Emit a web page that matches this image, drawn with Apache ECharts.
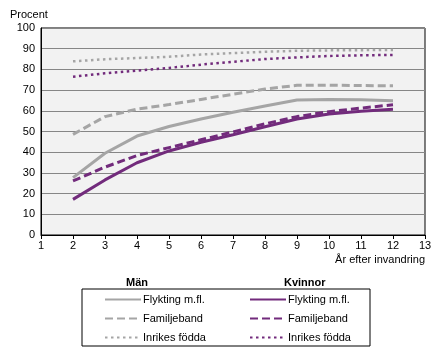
<!DOCTYPE html>
<html><head><meta charset="utf-8">
<script src="https://cdn.jsdelivr.net/npm/echarts@6/dist/echarts.min.js"></script>
<style>html,body{margin:0;padding:0;background:#fff}#c{width:441px;height:360px}</style>
</head><body><div id="c"></div>
<script>
const years = [2,3,4,5,6,7,8,9,10,11,12];
const manFlykting = [27.7,39.5,47.8,52.4,56,59.3,62.3,65.2,65.5,65.3,64.9];
const manFamiljeband = [48.6,57.2,60.8,63,65.5,68,70.5,72.3,72.4,72.2,72.1];
const manInrikes = [83.9,84.9,85.5,86.1,87.2,87.9,88.5,89,89.2,89.3,89.4];
const kvFlykting = [17.2,26.6,34.9,40.6,44.8,48.4,52.3,56,58.5,59.8,60.7];
const kvFamiljeband = [26.1,32.8,38.4,42.2,46,49.8,53.7,57.2,59.6,61.3,62.9];
const kvInrikes = [76.5,78.1,79.4,80.7,82.3,83.7,85,85.8,86.5,86.8,87];
const labelsMan = ['Flykting m.fl.','Familjeband','Inrikes födda'];
const labelsKv = ['Flykting m.fl. ','Familjeband ','Inrikes födda '];

const gray = '#a5a5a5', purple = '#722b7c';
const font = 'Liberation Sans, Arial, sans-serif';
function pts(arr){ return years.map((x,i)=>[x,arr[i]]); }
function ser(name, data, color, type, width){
  return {name, type:'line', data:pts(data), showSymbol:false, symbol:'none', smooth:false,
    lineStyle:{color, width, type, cap:'butt'}, itemStyle:{color:'rgba(0,0,0,0)', borderWidth:0}, silent:true, z: color===purple?3:2};
}
const legendCommon = {orient:'vertical', top:294, padding:0, itemWidth:36, itemHeight:10, itemGap:8,
  itemStyle:{opacity:0, borderWidth:0},
  textStyle:{fontFamily:font, fontSize:11, color:'#000', padding:[0,0,0,-3]}, selectedMode:false};
const chart = echarts.init(document.getElementById('c'), null, {renderer:'canvas'});
chart.setOption({
  animation:false,
  grid:{left:41, top:28, width:384, height:207, show:true, backgroundColor:'#f2f2f2', borderColor:'#000', borderWidth:1},
  xAxis:{type:'value', min:1, max:13, interval:1,
    name:'År efter invandring', nameLocation:'end', nameGap:0,
    nameTextStyle:{fontFamily:font, fontSize:11, color:'#000', align:'right', verticalAlign:'top', padding:[19,0,0,0]},
    axisLine:{lineStyle:{color:'#000', width:1}}, axisTick:{show:true, length:4, lineStyle:{color:'#000'}},
    axisLabel:{fontFamily:font, fontSize:11, color:'#000', margin:5}, splitLine:{show:false}},
  yAxis:{type:'value', min:0, max:100, interval:10,
    name:'Procent', nameLocation:'end', nameGap:8,
    nameTextStyle:{fontFamily:font, fontSize:11, color:'#000', align:'left', padding:[0,0,0,-31]},
    axisLine:{show:true, lineStyle:{color:'#000', width:1}}, axisTick:{show:false},
    axisLabel:{fontFamily:font, fontSize:11, color:'#000', margin:6},
    splitLine:{show:true, lineStyle:{color:'#868686', width:1}}},
  legend:[
    Object.assign({data:labelsMan, left:104}, legendCommon),
    Object.assign({data:labelsKv, left:249, formatter:n=>n.trim()}, legendCommon)
  ],
  graphic:[
    {type:'rect', shape:{x:82, y:289, width:288, height:57}, style:{fill:'none', stroke:'#000', lineWidth:1}, silent:true},
    {type:'text', left:126, top:277, style:{text:'Män', font:'bold 11px '+font, fill:'#000'}},
    {type:'text', left:284, top:277, style:{text:'Kvinnor', font:'bold 11px '+font, fill:'#000'}}
  ],
  series:[
    ser(labelsMan[0], manFlykting, gray, 'solid', 3),
    ser(labelsMan[1], manFamiljeband, gray, [8,4], 3),
    ser(labelsMan[2], manInrikes, gray, [2.5,3.5], 2.5),
    ser(labelsKv[0], kvFlykting, purple, 'solid', 3),
    ser(labelsKv[1], kvFamiljeband, purple, [8,4], 3),
    ser(labelsKv[2], kvInrikes, purple, [2.5,3.5], 2.5)
  ]
});
</script></body></html>
